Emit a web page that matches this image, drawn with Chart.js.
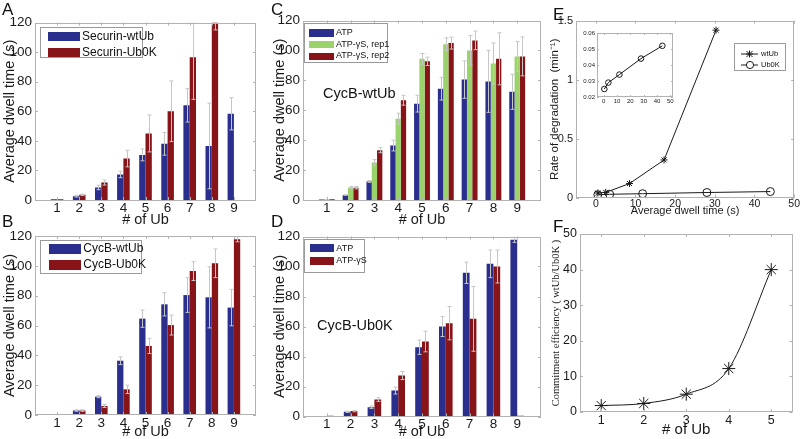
<!DOCTYPE html>
<html lang="en">
<head>
<meta charset="UTF-8" />
<title>Ubiquitin chain dwell times</title>
<script src="https://cdn.jsdelivr.net/npm/chart.js@4"></script>
<style>
  body { margin: 0; background: #fff; }
  #fig { position: relative; width: 800px; height: 439px; overflow: hidden;
         font-family: 'Liberation Sans Narrow', 'Liberation Sans', Arial, sans-serif; color: #111; }
  #fig canvas, .txt, .legend { position: absolute; }
  .txt { line-height: 1; white-space: nowrap; }
  .letter { font-size: 17px; }
  .note { font-size: 14.5px; }
  .legend { border: 1px solid #9a9a9a; background: #fff; box-sizing: border-box; }
  .legend .row { position: absolute; left: 0; height: 0; }
  .legend .sw, .legend .lab, .legend svg { position: absolute; }
  .legend .lab { white-space: nowrap; line-height: 1; }
</style>
</head>
<body>
<div id="fig">
  <canvas id="chartA" width="265" height="230" style="left:0;top:0"></canvas>
  <canvas id="chartB" width="265" height="231" style="left:0;top:210px"></canvas>
  <canvas id="chartC" width="280" height="230" style="left:270px;top:0"></canvas>
  <canvas id="chartD" width="280" height="231" style="left:270px;top:210px"></canvas>
  <canvas id="chartE" width="260" height="218" style="left:540px;top:0"></canvas>
  <canvas id="chartF" width="260" height="219" style="left:540px;top:220px"></canvas>
  <canvas id="chartInset" width="106" height="84" style="left:572px;top:26px"></canvas>

  <div class="txt letter" style="left:2px;top:1px">A</div>
  <div class="txt letter" style="left:2px;top:213px">B</div>
  <div class="txt letter" style="left:271px;top:1px">C</div>
  <div class="txt letter" style="left:271px;top:213px">D</div>
  <div class="txt letter" style="left:553px;top:6px">E</div>
  <div class="txt letter" style="left:553px;top:218px">F</div>
  <div class="txt note" style="left:323px;top:86px">CycB-wtUb</div>
  <div class="txt note" style="left:317px;top:318px">CycB-Ub0K</div>
</div>

<script>
// ---- data ----
const ubCounts = [1, 2, 3, 4, 5, 6, 7, 8, 9];
const dwellTicks = [0, 20, 40, 60, 80, 100, 120];

// A: securin
const securinWt      = [0.5, 2.5, 8.5, 17.3, 30.5, 38, 64, 36.5, 58.3];
const securinWtErr   = [null, 3, 10, 19.5, 34.5, 45.7, 75.3, 65.4, 69.2];
const securinUb0k    = [0.5, 3.5, 11.8, 28, 45, 60, 96.5, 120, null];
const securinUb0kErr = [null, 4, 13.5, 33.6, 57.5, 80.5, 125, 125, null];

// B: cyclin B
const cycbWt      = [0.5, 3, 12.3, 36.4, 64.6, 74.2, 80.4, 78.9, 72];
const cycbWtErr   = [null, 3.5, 13, 39, 70.4, 82, 92, 99.4, 84.2];
const cycbUb0k    = [0.5, 3, 6, 17.2, 46.3, 60.3, 96.5, 101.7, 117.8];
const cycbUb0kErr = [null, 3.5, 7, 20, 51.4, 67, 102.8, 111.3, 119.5];

// C: CycB-wtUb, ATP vs ATP-gammaS
const atpWt      = [0.3, 3.3, 12.4, 36.4, 64.4, 74.4, 80.5, 79.3, 72.3];
const atpWtErr   = [null, 3.5, 13, 40, 70, 82, 93, 100, 84];
const gsRep1     = [0.5, 8.4, 25.1, 54.4, 94.4, 104.2, 100, 91.3, 96];
const gsRep1Err  = [null, 9, 27, 58, 98, 108.4, 110, 105, 106];
const gsRep2     = [0.5, 8.2, 33.3, 66.7, 92.7, 104.9, 106.7, 94.4, 96];
const gsRep2Err  = [null, 9, 35, 70, 95.5, 108.9, 112.9, 111.8, 109];

// D: CycB-Ub0K, ATP vs ATP-gammaS
const atpUb0k     = [0.3, 3.1, 6.2, 17.3, 46.2, 60, 95.8, 101.8, 117.8];
const atpUb0kErr  = [null, 3.5, 7, 19.6, 51, 66.7, 102.9, 111, 119.5];
const gsUb0k      = [0.5, 3.6, 11.3, 27.3, 50, 62.2, 65.1, 100, 0.5];
const gsUb0kErr   = [null, 4, 12.5, 30, 56.9, 73.3, 86.7, 111, null];

// E: degradation rate vs dwell time
const wtDwell   = [0.5, 2.5, 8.5, 17.2, 30.3];
const wtRate    = [0.04, 0.045, 0.12, 0.32, 1.42];
const ub0kDwell = [0.5, 3.5, 11.8, 28, 44];
const ub0kRate  = [0.025, 0.029, 0.034, 0.044, 0.052];
const eXTicks = [0, 10, 20, 30, 40, 50];
const eYTicks = [0, 0.5, 1, 1.5];
const insetYTicks = [0.02, 0.03, 0.04, 0.05, 0.06];

// F: commitment efficiency
const fUb  = [1, 2, 3, 4, 5];
const fEff = [1.8, 2.4, 5, 12.2, 40];
const fYTicks = [0, 10, 20, 30, 40, 50];

// ---- styles ----
const NARROW = "'Liberation Sans Narrow', 'Liberation Sans', Arial, sans-serif";
const WIDE = "'Liberation Sans', Arial, sans-serif";
const INK = '#1a1a1a';
const BLUE = '#2a2f8e';
const RED = '#861418';
const GREEN = '#9ad26c';
const NO_GRID = { display: false, drawTicks: false };

Chart.defaults.color = INK;
Chart.defaults.animation = false;

function fixedSize(size) {
  return s => { if (s.isHorizontal()) s.height = size; else s.width = size; };
}
function useTicks(values) {
  return s => { s.ticks = values.map(v => ({ value: v })); };
}

// light box round the plot with small inward ticks, matlab style
const axesBox = {
  id: 'axesBox',
  afterDraw(chart) {
    const { ctx, chartArea: a, scales } = chart;
    const len = chart.options.plugins.axesBox.len;
    ctx.save();
    ctx.strokeStyle = '#b2b2b2';
    ctx.lineWidth = 1;
    ctx.strokeRect(Math.round(a.left) + 0.5, Math.round(a.top) + 0.5,
                   Math.round(a.width) - 1, Math.round(a.height) - 1);
    ctx.beginPath();
    scales.x.ticks.forEach(t => {
      const px = Math.round(scales.x.getPixelForValue(t.value)) + 0.5;
      ctx.moveTo(px, a.bottom); ctx.lineTo(px, a.bottom - len);
      ctx.moveTo(px, a.top); ctx.lineTo(px, a.top + len);
    });
    scales.y.ticks.forEach(t => {
      const py = Math.round(scales.y.getPixelForValue(t.value)) + 0.5;
      ctx.moveTo(a.left, py); ctx.lineTo(a.left + len, py);
      ctx.moveTo(a.right, py); ctx.lineTo(a.right - len, py);
    });
    ctx.stroke();
    ctx.restore();
  }
};

const errorBars = {
  id: 'errorBars',
  afterDatasetsDraw(chart) {
    const { ctx, chartArea: a } = chart;
    const y = chart.scales.y;
    ctx.save();
    ctx.beginPath();
    ctx.rect(a.left, a.top, a.width, a.height);
    ctx.clip();
    ctx.strokeStyle = '#c6c6c6';
    ctx.lineWidth = 1;
    ctx.beginPath();
    chart.data.datasets.forEach((ds, i) => {
      chart.getDatasetMeta(i).data.forEach((bar, j) => {
        const e = ds.err[j];
        const v = ds.data[j].y;
        if (e == null || v == null) return;
        const x = Math.round(bar.x) + 0.5;
        const top = y.getPixelForValue(e);
        const bot = y.getPixelForValue(Math.max(0, 2 * v - e));
        ctx.moveTo(x, bot); ctx.lineTo(x, top);
        ctx.moveTo(x - 2, top); ctx.lineTo(x + 2, top);
        ctx.moveTo(x - 2, bot); ctx.lineTo(x + 2, bot);
      });
    });
    ctx.stroke();
    ctx.restore();
  }
};

function barChart(id, series, f) {
  const groupWidth = series.length === 2 ? 0.571 : 0.667;
  return new Chart(document.getElementById(id), {
    type: 'bar',
    data: {
      datasets: series.map(s => ({
        label: s.label,
        data: ubCounts.map((x, i) => ({ x, y: s.values[i] })),
        err: s.err,
        backgroundColor: s.color,
        borderWidth: 0,
        categoryPercentage: groupWidth,
        barPercentage: 1
      }))
    },
    options: {
      responsive: false,
      layout: { padding: { top: f.top, right: f.right, left: 0, bottom: 0 } },
      plugins: { legend: { display: false }, tooltip: { enabled: false }, axesBox: { len: 3 } },
      scales: {
        x: {
          type: 'linear', min: 0, max: 10, offset: false,
          grid: NO_GRID, border: { display: false },
          afterBuildTicks: useTicks(ubCounts), afterFit: fixedSize(f.xh),
          ticks: { font: { family: NARROW, size: 13.5 }, padding: 0 },
          title: { display: true, text: '# of Ub', font: { family: NARROW, size: 14.5 },
                   padding: { top: 0, bottom: f.titlePad } }
        },
        y: {
          min: 0, max: 120,
          grid: NO_GRID, border: { display: false },
          afterBuildTicks: useTicks(dwellTicks), afterFit: fixedSize(f.yw),
          ticks: { font: { family: NARROW, size: 13.5 }, padding: 3 },
          title: { display: true, text: 'Average dwell time (s)', font: { family: WIDE, size: 14.5 },
                   padding: { top: 1, bottom: 0 } }
        }
      }
    },
    plugins: [axesBox, errorBars]
  });
}

// legends are plain html boxes built from the series
function legend(box, items, o) {
  const el = document.createElement('div');
  el.className = 'legend';
  Object.assign(el.style, { left: box[0] + 'px', top: box[1] + 'px', width: box[2] + 'px', height: box[3] + 'px' });
  items.forEach((it, i) => {
    const row = document.createElement('div');
    row.className = 'row';
    row.style.top = o.rows[i] + 'px';
    let mark;
    if (it.color) {
      mark = `<div class="sw" style="left:${o.swX}px;top:${-o.swH / 2}px;width:${o.swW}px;height:${o.swH}px;background:${it.color}"></div>`;
    } else {
      mark = `<svg width="${o.swW}" height="10" style="left:${o.swX}px;top:-5px">` +
             `<line x1="0" y1="5" x2="${o.swW}" y2="5" stroke="${INK}" stroke-width="1"/>` + it.symbol + `</svg>`;
    }
    row.innerHTML = mark +
      `<div class="lab" style="left:${o.textX}px;top:${-o.font * 0.55}px;font-size:${o.font}px">${it.label}</div>`;
    el.appendChild(row);
  });
  document.getElementById('fig').appendChild(el);
}

// ---- A ----
const seriesA = [
  { label: 'Securin-wtUb', values: securinWt, err: securinWtErr, color: BLUE },
  { label: 'Securin-Ub0K', values: securinUb0k, err: securinUb0kErr, color: RED }
];
barChart('chartA', seriesA, { top: 22.5, right: 9, yw: 35, xh: 30, titlePad: 1.5 });
legend([40, 26.5, 103, 31], seriesA, { rows: [8.8, 24.8], swX: 6.5, swW: 32.5, swH: 9, textX: 41, font: 12 });

// ---- B ----
const seriesB = [
  { label: 'CycB-wtUb', values: cycbWt, err: cycbWtErr, color: BLUE },
  { label: 'CycB-Ub0K', values: cycbUb0k, err: cycbUb0kErr, color: RED }
];
barChart('chartB', seriesB, { top: 26, right: 9, yw: 35, xh: 26, titlePad: 0 });
legend([40, 239.5, 102, 34], seriesB, { rows: [8.2, 24], swX: 7.7, swW: 32, swH: 10, textX: 42.3, font: 12 });

// ---- C ----
const seriesC = [
  { label: 'ATP', values: atpWt, err: atpWtErr, color: BLUE },
  { label: 'ATP-\u03B3S, rep1', values: gsRep1, err: gsRep1Err, color: GREEN },
  { label: 'ATP-\u03B3S, rep2', values: gsRep2, err: gsRep2Err, color: RED }
];
barChart('chartC', seriesC, { top: 20.5, right: 9, yw: 33, xh: 30, titlePad: 1.5 });
legend([304, 23.3, 84, 39.4], seriesC, { rows: [8.7, 20.4, 32], swX: 4, swW: 25, swH: 7.5, textX: 31, font: 9 });

// ---- D ----
const seriesD = [
  { label: 'ATP', values: atpUb0k, err: atpUb0kErr, color: BLUE },
  { label: 'ATP-\u03B3S', values: gsUb0k, err: gsUb0kErr, color: RED }
];
barChart('chartD', seriesD, { top: 26.5, right: 9, yw: 33, xh: 24.5, titlePad: 0 });
legend([304.3, 239.3, 61, 34], seriesD, { rows: [8.2, 20.7], swX: 5, swW: 24, swH: 8, textX: 31, font: 9 });

// ---- E ----
const lineStyle = { showLine: true, borderColor: INK, borderWidth: 1, pointBorderColor: INK, pointBorderWidth: 1 };
new Chart(document.getElementById('chartE'), {
  type: 'scatter',
  data: {
    datasets: [
      { label: 'wtUb', data: wtDwell.map((x, i) => ({ x, y: wtRate[i] })), ...lineStyle,
        pointStyle: 'star', pointRadius: 3.5, backgroundColor: INK },
      { label: 'Ub0K', data: ub0kDwell.map((x, i) => ({ x, y: ub0kRate[i] })), ...lineStyle,
        pointStyle: 'circle', pointRadius: 4, pointBackgroundColor: 'rgba(0,0,0,0)' }
    ]
  },
  options: {
    responsive: false,
    layout: { padding: { top: 20.7, right: 5, left: 0, bottom: 0 } },
    plugins: { legend: { display: false }, tooltip: { enabled: false }, axesBox: { len: 3 } },
    scales: {
      x: {
        type: 'linear', min: -5, max: 50,
        grid: NO_GRID, border: { display: false },
        afterBuildTicks: useTicks(eXTicks), afterFit: fixedSize(20.3),
        ticks: { font: { family: NARROW, size: 10.5 }, padding: 0 },
        title: { display: true, text: 'Average dwell time (s)', font: { family: NARROW, size: 11 },
                 padding: { top: 0, bottom: 0 } }
      },
      y: {
        min: 0, max: 1.5,
        grid: NO_GRID, border: { display: false },
        afterBuildTicks: useTicks(eYTicks), afterFit: fixedSize(36),
        ticks: { font: { family: NARROW, size: 11 }, padding: 3, callback: v => String(v) },
        title: { display: true, text: 'Rate of degradation  (min\u207B\u00B9)', font: { family: WIDE, size: 11.5 },
                 padding: { top: 8, bottom: 0 } }
      }
    }
  },
  plugins: [axesBox]
});

new Chart(document.getElementById('chartInset'), {
  type: 'scatter',
  data: {
    datasets: [
      { label: 'Ub0K', data: ub0kDwell.map((x, i) => ({ x, y: ub0kRate[i] })), ...lineStyle,
        pointStyle: 'circle', pointRadius: 2.8, pointBackgroundColor: 'rgba(0,0,0,0)' }
    ]
  },
  options: {
    responsive: false,
    layout: { padding: { top: 7, right: 5, left: 0, bottom: 0 } },
    plugins: { legend: { display: false }, tooltip: { enabled: false }, axesBox: { len: 2 } },
    scales: {
      x: {
        type: 'linear', min: -5, max: 52,
        grid: NO_GRID, border: { display: false },
        afterBuildTicks: useTicks(eXTicks), afterFit: fixedSize(13),
        ticks: { font: { family: NARROW, size: 6 }, padding: 1 }
      },
      y: {
        min: 0.02, max: 0.06,
        grid: NO_GRID, border: { display: false },
        afterBuildTicks: useTicks(insetYTicks), afterFit: fixedSize(25),
        ticks: { font: { family: NARROW, size: 6 }, padding: 2, callback: v => v.toFixed(2) }
      }
    }
  },
  plugins: [axesBox]
});

legend([734.3, 42.7, 51.7, 28], [
  { label: 'wtUb', symbol: `<g stroke="${INK}" stroke-width="1"><line x1="5.5" y1="2" x2="11.5" y2="8"/><line x1="11.5" y1="2" x2="5.5" y2="8"/><line x1="8.5" y1="1.5" x2="8.5" y2="8.5"/><line x1="5" y1="5" x2="12" y2="5"/></g>` },
  { label: 'Ub0K', symbol: `<circle cx="9" cy="5" r="3.6" fill="#fff" stroke="${INK}" stroke-width="1"/>` }
], { rows: [10.6, 21.6], swX: 5.7, swW: 17.3, textX: 25.7, font: 7.5 });

// ---- F ----
new Chart(document.getElementById('chartF'), {
  type: 'scatter',
  data: {
    datasets: [
      { label: 'wtUb/Ub0K', data: fUb.map((x, i) => ({ x, y: fEff[i] })), ...lineStyle,
        cubicInterpolationMode: 'monotone', pointStyle: 'star', pointRadius: 6.5 }
    ]
  },
  options: {
    responsive: false,
    layout: { padding: { top: 14, right: 2, left: 0, bottom: 0 } },
    plugins: { legend: { display: false }, tooltip: { enabled: false }, axesBox: { len: 3 } },
    scales: {
      x: {
        type: 'linear', min: 0.5, max: 5.5,
        grid: NO_GRID, border: { display: false },
        afterBuildTicks: useTicks(fUb), afterFit: fixedSize(27),
        ticks: { font: { family: NARROW, size: 12.5 }, padding: 1 },
        title: { display: true, text: '# of Ub', font: { family: NARROW, size: 15 },
                 padding: { top: 0, bottom: 0 } }
      },
      y: {
        min: 0, max: 50,
        grid: NO_GRID, border: { display: false },
        afterBuildTicks: useTicks(fYTicks), afterFit: fixedSize(40),
        ticks: { font: { family: NARROW, size: 12.5 }, padding: 3 },
        title: { display: true, text: 'Commitment efficiency ( wtUb/Ub0K )',
                 font: { family: "'Liberation Serif', serif", size: 10.5 },
                 padding: { top: 10, bottom: 0 } }
      }
    }
  },
  plugins: [axesBox]
});
</script>
</body>
</html>
